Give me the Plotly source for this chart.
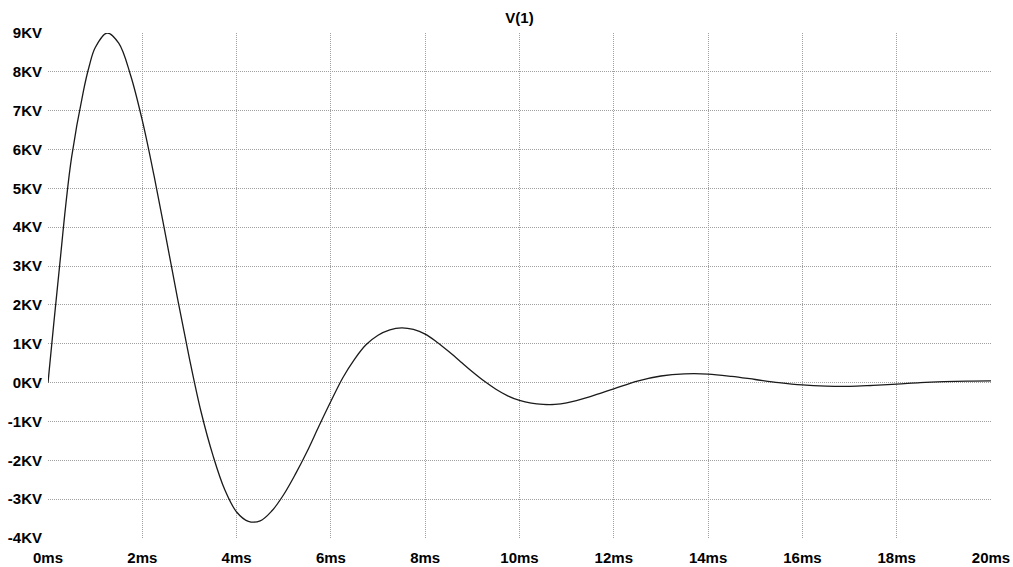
import plotly.graph_objects as go

# time in ms, voltage in KV
time_ms = [0, 0.125, 0.25, 0.375, 0.5, 0.75, 0.875, 1.0, 1.25, 1.5, 1.75, 2.0, 2.25, 2.5, 2.75,
           3.0, 3.25, 3.5, 3.75, 4.0, 4.25, 4.5, 4.75, 5.0, 5.25, 5.5, 5.75, 6.0, 6.25,
           6.5, 6.75, 7.0, 7.25, 7.5, 7.75, 8.0, 8.25, 8.5, 8.75, 9.0, 9.25, 9.5, 9.75,
           10.0, 10.25, 10.5, 10.75, 11.0, 11.5, 12.0, 12.5, 13.0, 13.5, 14.0, 14.5,
           15.0, 15.5, 16.0, 16.5, 17.0, 17.5, 18.0, 18.5, 19.0, 19.5, 20.0]
volt_kv = [0, 1.55, 3.05, 4.55, 5.8, 7.5, 8.15, 8.62, 9.0, 8.74, 7.92, 6.75, 5.32, 3.75, 2.15,
           0.62, -0.77, -1.88, -2.76, -3.33, -3.57, -3.56, -3.3, -2.88, -2.35, -1.76, -1.11,
           -0.48, 0.12, 0.6, 0.98, 1.22, 1.36, 1.41, 1.37, 1.25, 1.04, 0.8, 0.54, 0.28,
           0.04, -0.17, -0.34, -0.46, -0.53, -0.56, -0.56, -0.52, -0.36, -0.16, 0.04,
           0.17, 0.225, 0.22, 0.16, 0.08, 0.0, -0.06, -0.09, -0.095, -0.07, -0.04, 0.0,
           0.025, 0.04, 0.045]

x_ticks = [0, 2, 4, 6, 8, 10, 12, 14, 16, 18, 20]
x_labels = [f"{v}ms" for v in x_ticks]
y_ticks = [9, 8, 7, 6, 5, 4, 3, 2, 1, 0, -1, -2, -3, -4]
y_labels = [f"{v}KV" for v in y_ticks]
title_text = "V(1)"

FONT = "Liberation Sans, Arial"
GRID = "#a0a0a0"

fig = go.Figure()
fig.add_trace(go.Scatter(x=time_ms, y=volt_kv, mode="lines",
                         line=dict(color="#1a1a1a", width=1.3, shape="spline", smoothing=1.0),
                         showlegend=False, hoverinfo="skip"))
# invisible trace to activate the grid axes
fig.add_trace(go.Scatter(x=[0, 20], y=[-4, 9], xaxis="x2", yaxis="y2", mode="markers",
                         marker=dict(opacity=0), showlegend=False, hoverinfo="skip"))

tick_font = dict(family=FONT, size=15, color="black", weight="bold")

fig.update_layout(
    width=1013, height=567,
    margin=dict(l=48, r=22, t=33, b=29, autoexpand=False),
    plot_bgcolor="white", paper_bgcolor="white",
    font=dict(family=FONT, size=15, color="black"),
    title=dict(text=title_text, x=0.5, xanchor="center", xref="paper",
               y=0.969, yanchor="middle", yref="container",
               font=dict(family=FONT, size=15, color="black", weight="bold")),
    xaxis=dict(range=[0, 20], tickvals=x_ticks, ticktext=x_labels, showgrid=False,
               zeroline=False, showline=False, ticks="", ticklabelstandoff=9,
               tickfont=tick_font, automargin=False, ticklabeloverflow="allow"),
    yaxis=dict(range=[-4, 9], tickvals=y_ticks, ticktext=y_labels, showgrid=False,
               zeroline=False, showline=False, ticks="", ticklabelstandoff=5,
               tickfont=tick_font, automargin=False),
    xaxis2=dict(range=[0, 20], overlaying="x", tickvals=x_ticks[1:-1], showticklabels=False,
                showgrid=True, gridcolor=GRID, griddash="1px,1px", gridwidth=1,
                zeroline=False, showline=False, ticks="", automargin=False),
    yaxis2=dict(range=[-4, 9], overlaying="y", tickvals=y_ticks[1:-1], showticklabels=False,
                showgrid=True, gridcolor=GRID, griddash="1px,1px", gridwidth=1,
                zeroline=False, showline=False, ticks="", automargin=False),
)
fig.write_html("out.html", config={"displayModeBar": False},
               post_script="document.body.style.margin='0';document.body.style.overflow='hidden';")
